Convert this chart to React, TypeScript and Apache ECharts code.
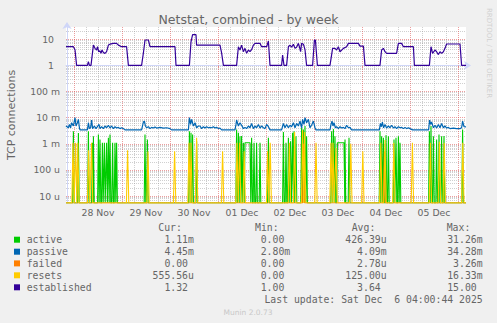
import { useEffect, useRef } from 'react';
import * as echarts from 'echarts';

const TITLE = 'Netstat, combined - by week';
const Y_NAME = 'TCP connections';
const DAY_LABELS = ['28 Nov', '29 Nov', '30 Nov', '01 Dec', '02 Dec', '03 Dec', '04 Dec', '05 Dec'];
const DAY_LABEL_HOURS = [15.5, 39.5, 63.5, 87.5, 111.5, 135.5, 159.5, 183.5];
const DAY_START_HOURS = [3.5, 27.5, 51.5, 75.5, 99.5, 123.5, 147.5, 171.5, 195.5];
const Y_TICK_EXP = [-5, -4, -3, -2, -1, 0, 1];
const Y_TICK_LABELS = ['10 u', '100 u', '1 m', '10 m', '100 m', '1', '10'];

const X_MIN = -0.5;
const X_MAX = 199.5;
const Y_MIN = -5.268;
const Y_MAX = 1.471;

// established connections [hour, value]
const ESTABLISHED: [number, number][] = [
  [-0.5, 5.2], [3.2, 5.2], [4, 4], [4.8, 1], [10.2, 1], [10.7, 1.4], [11.2, 1], [12, 1], [13.2, 6], [14, 4.5], [14.8, 3.9],
  [15.3, 5.2], [15.8, 3.35], [16.5, 3.6], [17, 2.9], [17.5, 3.9], [18.2, 3.1], [19, 2.9], [19.8, 3.35], [20.7, 6], [21.5, 6.5],
  [23.2, 7], [24.8, 7], [25.7, 6], [27.3, 5.2], [29.8, 5.2], [30.7, 1],
  [37.3, 1], [38.2, 3], [39, 9.4], [40.7, 9.4], [41.5, 5.2], [54, 5.2], [54.5, 1],
  [61.2, 1], [62, 8], [62.8, 15], [64.5, 15], [64.8, 6], [76.5, 6], [77.3, 3], [78.2, 1],
  [84.8, 1], [85.7, 5.2], [86.5, 3.9], [87.3, 6], [88.2, 3.35], [89, 4.5], [89.8, 2.9], [90.7, 3.9], [91.5, 3.35], [92.3, 4],
  [93.2, 6], [94, 7], [96.5, 7], [97.3, 5.2], [99.8, 5.2], [100.7, 8.5], [101.5, 1],
  [107.3, 1], [107.8, 2.5], [108.5, 1], [109.8, 1], [110.7, 5.2], [111.5, 6], [112.3, 5], [113.2, 6.5], [114, 4.5], [114.8, 5],
  [115.7, 7], [116.2, 5.2], [116.8, 3.35], [117.3, 7], [118.2, 6.5], [119, 4], [119.8, 1],
  [122.8, 1], [123.7, 9.4], [124.2, 9.4], [125.2, 1],
  [131.5, 1], [132.8, 4.5], [134, 4.5], [134.8, 3.9], [135.7, 5.2], [136.5, 3.35], [138.2, 4.5], [139.8, 5.2], [140.7, 7],
  [145.7, 7], [146.5, 5.5], [148.2, 5.5], [149, 1],
  [156.5, 1], [157.3, 3.9], [158.2, 4.5], [159, 3.35], [159.8, 2.9], [164.8, 2.9], [165.7, 7], [167.3, 7], [168.2, 5.2],
  [173.2, 5.2], [173.7, 1],
  [181.2, 1], [182, 5.2], [182.8, 2.9], [184, 3.9], [184.8, 3.35], [185.7, 2.6], [186.5, 3.35], [187.3, 2.9], [188.2, 3.35],
  [189, 4.5], [189.8, 6.6], [196.5, 6.6], [197.3, 1], [199.5, 1],
];

// passive opens, in milli [hour, value m]
const PASSIVE: [number, number][] = [
  [-0.5, 4.8], [0.7, 4.1], [1.2, 5.5], [1.8, 4.1], [2.3, 6.4], [3.2, 4.8], [4, 10], [4.5, 4.8], [5.2, 6.4], [5.7, 8.6], [6.2, 4.1], [6.5, 3.4],
  [10.2, 3.4], [10.7, 6.4], [11.2, 3.8], [11.8, 4.1], [12.3, 8.1], [12.8, 3.8], [13.7, 4.8], [14.5, 3.8], [15.2, 4.5], [16, 5.5],
  [16.5, 3.8], [17.3, 4.5], [18.2, 3.8], [19, 4.8], [19.8, 4.1], [20.7, 5.1], [21.5, 4.0], [22.3, 4.8], [23.2, 3.8], [24, 4.5],
  [24.8, 4.0], [25.7, 4.25], [26.5, 3.8], [27.3, 4.1], [28.2, 3.8], [29, 3.4],
  [37.3, 3.4], [38.2, 6.8], [38.7, 7.4], [39.2, 4.8], [39.8, 4.1], [40.7, 4.5], [41.5, 3.8], [42.3, 4.25], [43.2, 4.0], [44, 4.4],
  [44.8, 4.0], [46.5, 4.25], [48.2, 4.0], [49.8, 4.1], [51.5, 3.8], [52.3, 3.4],
  [60.7, 3.4], [61.2, 10], [61.8, 5.5], [62.3, 8.6], [63.2, 4.8], [64, 6.4], [64.8, 4.1], [65.7, 4.8], [66.5, 4.8], [67.3, 3.8],
  [68.2, 4.5], [69, 4.0], [69.8, 4.5], [70.7, 4.1], [71.5, 4.25], [72.3, 4.1], [73.2, 4.5], [74, 4.0], [74.8, 4.25], [75.7, 3.8],
  [76.5, 4.0], [77.3, 3.4],
  [84, 3.4], [84.5, 5.5], [84.8, 8.1], [85.7, 4.8], [86.5, 6.4], [87.3, 5.1], [88.2, 3.8], [89, 4.25], [89.8, 3.8], [90.7, 4.8],
  [91.5, 4.1], [92.3, 6.0], [93.2, 3.8], [94, 4.8], [94.8, 4.1], [95.7, 5.5], [96.5, 4.0], [97.3, 4.8], [98.2, 4.1], [99, 3.8],
  [99.8, 5.5], [100.7, 4.5], [101.5, 3.4],
  [107.3, 3.4], [108.2, 6.0], [109, 4.1], [109.8, 5.5], [110.7, 4.1], [111.5, 5.1], [112.3, 4.5], [113.2, 6.4], [114, 4.1],
  [114.8, 6.0], [115.7, 4.8], [116.5, 7.4], [117.3, 4.1], [117.8, 8.6], [118.5, 5.5], [119, 10], [119.8, 6.4], [120.7, 8.6],
  [121.5, 4.1], [122.3, 5.1], [123.2, 7.4], [124, 4.1], [124.5, 3.4],
  [131.5, 3.4], [132, 5.5], [132.5, 7.4], [133, 4.8], [133.5, 6.4], [134.2, 4.1], [134.8, 4.5], [135.7, 3.8], [136.5, 4.5],
  [137.3, 4.0], [138.2, 4.25], [139, 3.8], [139.8, 5.1], [140.7, 4.1], [141.5, 4.25], [142.3, 3.4],
  [156.2, 3.4], [156.7, 6.0], [157.2, 4.5], [157.7, 6.8], [158.3, 4.1], [159, 5.5], [159.8, 4.0], [160.7, 4.8], [161.5, 4.1],
  [162.3, 5.1], [163.2, 4.0], [164, 4.5], [164.8, 3.8], [165.7, 4.5], [166.5, 4.1], [167.3, 4.25], [168.2, 3.8], [169, 4.25],
  [169.8, 3.8], [170.7, 4.1], [171.5, 3.8], [172.8, 3.4],
  [180.8, 3.4], [181.3, 8.1], [181.8, 5.5], [182.3, 6.8], [183.2, 4.1], [184, 5.1], [184.8, 4.0], [185.7, 5.5], [186.5, 4.1],
  [187.3, 6.0], [188.2, 4.1], [189, 4.8], [189.8, 4.0], [190.7, 4.25], [191.5, 3.8], [193.2, 4.0], [194.8, 3.8], [196.5, 3.8],
  [197.3, 4.1], [197.8, 7.4], [198.5, 4.5], [199.5, 4.45],
];

// spikes: [hour, value m, plateau end hour?]; zero elsewhere
const ACTIVE: [number, number, number?][] = [
  [3.2, 3.0], [5.7, 2.6], [10.7, 3.0], [12.7, 1.1], [13.2, 1.95], [15.7, 2.27], [16.5, 1.46], [17.7, 1.1], [18.7, 1.1],
  [19.8, 1.1], [20.7, 1.7], [21.5, 2.27], [22.8, 1.1], [24, 1.1], [24.8, 1.1],
  [39, 2.27], [40.2, 1.46],
  [61.2, 3.0], [62, 2.64], [62.8, 2.27], [64.8, 1.26],
  [84.8, 3.5], [85.7, 2.64], [86.5, 1.95], [87.3, 2.0], [88.2, 1.1], [89, 1.1, 91.5], [92.3, 1.7], [93.5, 1.1], [94.8, 1.1],
  [96.5, 1.1], [100.7, 1.7],
  [108.2, 2.8], [109.5, 1.1], [110.7, 1.7], [111.8, 1.26], [112.8, 2.64], [113.5, 3.0], [114.5, 1.95], [117.3, 4.1],
  [118.2, 3.5], [119, 4.8], [119.8, 1.95],
  [132.3, 3.0], [133.2, 3.7], [134, 1.95], [135.2, 1.1, 138.5], [139, 1.46], [141, 1.7],
  [156.5, 3.0], [157.3, 1.95], [158.2, 1.7], [159.5, 2.1], [160.7, 1.95], [163.5, 1.46], [164.5, 1.7], [165.7, 1.95], [166.5, 1.1],
  [181.2, 3.0], [182, 4.8], [183.2, 1.95], [184.8, 1.46], [186, 2.27], [187.3, 1.95], [188.5, 2.0], [197.8, 3.5],
];
const FAILED: [number, number, number?][] = [[118.3, 1.0], [158.7, 0.5]];
const RESETS: [number, number, number?][] = [
  [3.0, 1.1], [4.3, 1.1], [5.4, 1.1], [10.8, 0.56], [12.3, 1.1], [30.3, 0.56], [40.5, 0.5], [53.8, 0.52], [61, 1.1], [62, 1.1],
  [64.8, 1.7], [77.8, 0.52], [85, 1.1], [86.3, 1.1], [88.6, 0.52], [100.3, 0.52], [101.6, 1.1], [111.2, 1.1], [113.8, 2.8],
  [117.8, 3.3], [118.8, 2.8], [124.5, 1.1], [132, 1.1], [133, 1.1], [134.5, 0.7], [141.9, 1.0], [147.9, 0.52], [156.9, 1.1],
  [159, 1.4], [163.4, 1.1], [172.7, 1.1], [181.7, 1.1], [186.2, 1.2], [188.6, 1.1], [197.9, 1.1],
];

const LEGEND_NAMES = ['active', 'passive', 'failed', 'resets', 'established'];
const LEGEND_COLORS = ['#00CC00', '#0066B3', '#FF8000', '#FFCC00', '#330099'];
const CUR = ['1.11m', '4.45m', '0.00', '555.56u', '1.32'];
const MIN = ['0.00', '2.80m', '0.00', '0.00', '1.00'];
const AVG = ['426.39u', '4.09m', '2.78u', '125.00u', '3.64'];
const MAX = ['31.26m', '34.28m', '3.26m', '16.33m', '15.00'];
const HEADERS = ['Cur:', 'Min:', 'Avg:', 'Max:'];
const LAST_UPDATE = 'Last update: Sat Dec \u00a06 04:00:44 2025';
const FOOTER = 'Munin 2.0.73';
const SIDE = 'RRDTOOL / TOBI OETIKER';

const toLog = (v: number) => (v > 0 ? Math.log10(v) : Y_MIN);

function spikesToLine(segs: [number, number, number?][], scale: number, half: number) {
  const sorted = [...segs].sort((a, b) => a[0] - b[0]);
  const pts: number[][] = [[X_MIN, Y_MIN]];
  for (const s of sorted) {
    const start = s[0];
    const v = toLog(s[1] * scale);
    const end = s[2] ?? s[0];
    pts.push([start - half, Y_MIN], [start, v]);
    if (end !== start) pts.push([end, v]);
    pts.push([end + half, Y_MIN]);
  }
  pts.push([X_MAX, Y_MIN]);
  return pts;
}

export default function App() {
  const ref = useRef<HTMLDivElement>(null);
  useEffect(() => {
    if (!ref.current) return;
    const chart = echarts.init(ref.current, undefined, { renderer: 'svg' });

    const minorY: number[] = [];
    for (let e = -6; e <= 1; e++) {
      for (let k = 2; k <= 9; k++) {
        const v = Math.log10(k) + e;
        if (v > Y_MIN && v < Y_MAX) minorY.push(v);
      }
    }
    const minorX: number[] = [];
    for (let h = DAY_START_HOURS[0]; h < X_MAX; h += 6) {
      if (!DAY_START_HOURS.includes(h)) minorX.push(h);
    }

    const majorColor = 'rgba(222,79,79,0.55)';
    const minorColor = 'rgba(143,143,143,0.42)';
    const axisColor = '#CFD6F8';
    const font = 'DejaVu Sans';
    const mono = 'DejaVu Sans Mono';
    const textColor = '#666666';

    const lineSeries = (name: string, color: string, data: number[][], width = 1.1) => ({
      name,
      type: 'line',
      data,
      showSymbol: false,
      symbol: 'none',
      silent: true,
      clip: true,
      lineStyle: { color, width },
      itemStyle: { color },
    });

    const graphics: any[] = [];
    const colNumEnd = [188, 284.3, 380.7, 476.7];
    const headerX = [158.3, 255, 351.7, 446.7];
    const rowY = [239.7, 251.7, 263.4, 275.3, 287.3];
    HEADERS.forEach((h, i) => {
      graphics.push({
        type: 'text', x: headerX[i], y: 227.3,
        style: { text: h, fill: textColor, font: `9.8px ${mono}`, textAlign: 'left', textVerticalAlign: 'middle' },
      });
    });
    const cols = [CUR, MIN, AVG, MAX];
    LEGEND_NAMES.forEach((n, r) => {
      graphics.push({
        type: 'rect', shape: { x: 14, y: rowY[r] - 3, width: 6, height: 6 },
        style: { fill: LEGEND_COLORS[r] },
      });
      graphics.push({
        type: 'text', x: 26.7, y: rowY[r],
        style: { text: n, fill: textColor, font: `9.8px ${mono}`, textAlign: 'left', textVerticalAlign: 'middle' },
      });
      cols.forEach((col, c) => {
        const m = col[r].match(/^([\d.]+)(\D?)$/);
        const num = m ? m[1] : col[r];
        const suf = m ? m[2] : '';
        graphics.push({
          type: 'text', x: colNumEnd[c], y: rowY[r],
          style: { text: num, fill: textColor, font: `9.8px ${mono}`, textAlign: 'right', textVerticalAlign: 'middle' },
        });
        if (suf) {
          graphics.push({
            type: 'text', x: colNumEnd[c], y: rowY[r],
            style: { text: suf, fill: textColor, font: `9.8px ${mono}`, textAlign: 'left', textVerticalAlign: 'middle' },
          });
        }
      });
    });
    graphics.push({
      type: 'text', x: 482.7, y: 299.3,
      style: { text: LAST_UPDATE, fill: textColor, font: `9.8px ${mono}`, textAlign: 'right', textVerticalAlign: 'middle' },
    });
    graphics.push({
      type: 'text', x: 248, y: 312,
      style: { text: FOOTER, fill: '#c8c8c8', font: `7.5px ${font}`, textAlign: 'center', textVerticalAlign: 'middle' },
    });
    graphics.push({
      type: 'text', x: 488.5, y: 53, rotation: -Math.PI / 2,
      style: { text: SIDE, fill: '#d0d0d0', font: `7px ${font}`, textAlign: 'center', textVerticalAlign: 'middle' },
    });

    chart.setOption({
      animation: false,
      backgroundColor: '#F0F0F0',
      title: {
        text: TITLE, left: 'center', top: 13, padding: 0,
        textStyle: { fontSize: 12.5, color: textColor, fontWeight: 'normal', fontFamily: font },
      },
      grid: {
        left: 66, top: 27, width: 400, height: 176, show: true, backgroundColor: '#FFFFFF', borderWidth: 0,
        outerBoundsMode: 'none', containLabel: false,
      },
      xAxis: [
        {
          type: 'value', min: X_MIN, max: X_MAX,
          axisLine: { show: true, lineStyle: { color: axisColor, width: 1 }, symbol: ['none', 'arrow'], symbolSize: [7, 7], symbolOffset: [0, 5] },
          axisTick: { show: true, length: 2, customValues: DAY_START_HOURS, lineStyle: { color: majorColor } },
          axisLabel: {
            customValues: DAY_LABEL_HOURS, margin: 5, color: textColor, fontSize: 9.3, fontFamily: font,
            formatter: (v: number) => DAY_LABELS[Math.round((v - DAY_LABEL_HOURS[0]) / 24)] ?? '',
          },
          splitLine: { show: true, lineStyle: { color: majorColor, type: [1, 1], width: 1 } },
        },
        {
          type: 'value', min: X_MIN, max: X_MAX, position: 'bottom',
          axisLine: { show: false }, axisLabel: { show: false },
          axisTick: { show: false, customValues: minorX },
          splitLine: { show: true, lineStyle: { color: minorColor, type: [1, 1], width: 1 } },
        },
      ],
      yAxis: [
        {
          type: 'value', min: Y_MIN, max: Y_MAX,
          name: Y_NAME, nameLocation: 'middle', nameGap: 49, nameRotate: 90,
          nameTextStyle: { color: textColor, fontSize: 11, fontFamily: font },
          axisLine: { show: true, lineStyle: { color: axisColor, width: 1 }, symbol: ['none', 'arrow'], symbolSize: [7, 7], symbolOffset: [0, 5] },
          axisTick: { show: false, customValues: Y_TICK_EXP },
          axisLabel: {
            customValues: Y_TICK_EXP, margin: 6, color: textColor, fontSize: 9.3, fontFamily: font,
            formatter: (v: number) => {
              const s = Y_TICK_LABELS[Y_TICK_EXP.indexOf(Math.round(v))] ?? '';
              return s.includes(' ') ? s : `{p|${s}}`;
            },
            rich: { p: { padding: [0, 6, 0, 0], color: textColor, fontSize: 9.3, fontFamily: font } },
          },
          splitLine: { show: true, lineStyle: { color: majorColor, type: [1, 1], width: 1 } },
        },
        {
          type: 'value', min: Y_MIN, max: Y_MAX, position: 'left',
          axisLine: { show: false }, axisLabel: { show: false },
          axisTick: { show: false, customValues: minorY },
          splitLine: { show: true, lineStyle: { color: minorColor, type: [1, 1], width: 1 } },
        },
      ],
      graphic: graphics,
      series: [
        lineSeries('active', '#00CC00', spikesToLine(ACTIVE, 1e-3, 0.4)),
        lineSeries('passive', '#0066B3', PASSIVE.map(([h, v]) => [h, toLog(v * 1e-3)]), 1.2),
        lineSeries('failed', '#FF8000', spikesToLine(FAILED, 1e-3, 0.5)),
        lineSeries('resets', '#FFCC00', spikesToLine(RESETS, 1e-3, 0.6)),
        lineSeries('established', '#330099', ESTABLISHED.map(([h, v]) => [h, toLog(v)]), 1.2),
      ],
    });
    return () => chart.dispose();
  }, []);
  return <div ref={ref} style={{ position: 'fixed', left: 0, top: 0, width: 497, height: 323 }} />;
}
